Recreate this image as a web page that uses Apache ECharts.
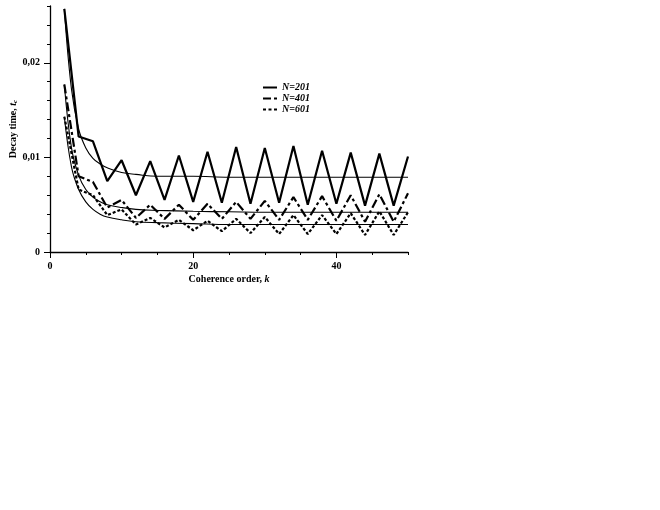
<!DOCTYPE html>
<html>
<head>
<meta charset="utf-8">
<script src="https://cdn.jsdelivr.net/npm/echarts@6/dist/echarts.min.js"></script>
<style>
  html, body { margin: 0; padding: 0; background: #fff; }
  #chart { width: 660px; height: 510px; }
</style>
</head>
<body>
<div id="chart"></div>
<script>
const kEven = [2, 4, 6, 8, 10, 12, 14, 16, 18, 20, 22, 24, 26, 28, 30, 32, 34, 36, 38, 40, 42, 44, 46, 48, 50];
const n201 = [0.0257, 0.0122, 0.0117, 0.0075, 0.0097, 0.0060, 0.0096, 0.0055, 0.0102, 0.0053, 0.0106, 0.0052, 0.0111,
  0.0051, 0.0110, 0.0052, 0.0112, 0.0050, 0.0107, 0.0051, 0.0105, 0.0049, 0.0104, 0.0049, 0.0101];
const n401 = [0.0177, 0.0080, 0.0074, 0.0047, 0.0055, 0.0036, 0.0050, 0.0035, 0.0050, 0.0034, 0.0051, 0.0035, 0.0053,
  0.0035, 0.0054, 0.0034, 0.0058, 0.0034, 0.0059, 0.0033, 0.0060, 0.0032, 0.0061, 0.0032, 0.0062];
const n601 = [0.0143, 0.0066, 0.0060, 0.0039, 0.0045, 0.0029, 0.0036, 0.0026, 0.0034, 0.0023, 0.0033, 0.0022, 0.0035,
  0.0020, 0.0037, 0.0019, 0.0039, 0.0019, 0.0039, 0.0019, 0.0041, 0.0018, 0.0043, 0.0018, 0.0042];

// thin fitted curves
const kFit = [2, 3, 4, 5, 6, 7, 8, 10, 12, 15, 20, 25, 30, 40, 50];
const fit201 = [0.0257, 0.0172, 0.0130, 0.0110, 0.0099, 0.0093, 0.0089, 0.0084, 0.0082, 0.0080, 0.0080, 0.0079, 0.0079, 0.0079, 0.0079];
const fit401 = [0.0177, 0.0110, 0.0081, 0.0066, 0.0058, 0.0053, 0.0050, 0.0047, 0.0045, 0.0044, 0.0043, 0.00425, 0.0042, 0.0042, 0.0042];
const fit601 = [0.0143, 0.0090, 0.0066, 0.0053, 0.0045, 0.0040, 0.0037, 0.0034, 0.0032, 0.0031, 0.0030, 0.0029, 0.0029, 0.0029, 0.0029];

const xMajor = [0, 20, 40];
const yMajor = [0, 0.01, 0.02];

const font = "'Liberation Serif', 'Times New Roman', serif";
const pairs = (xs, ys) => xs.map((x, i) => [x, ys[i]]);

// legend keys drawn as dash patterns
const iconSolid = "path://M0,0H14V2H0Z";
const iconDashDot = "path://M0,0H8V2H0Z M11,0H14V2H11Z";
const iconDash = "path://M0,0H3V2H0Z M5.5,0H8.5V2H5.5Z M11,0H14V2H11Z";

const chart = echarts.init(document.getElementById("chart"));

const dataLine = (name, xs, ys, type) => ({
  name: name,
  type: "line",
  data: pairs(xs, ys),
  symbol: "none",
  lineStyle: { color: "#000", width: 2.2, type: type },
  itemStyle: { color: "#000" },
  z: 3,
});
const fitLine = (name, ys) => ({
  name: name,
  type: "line",
  data: pairs(kFit, ys),
  symbol: "none",
  smooth: 0.4,
  lineStyle: { color: "#000", width: 1.1 },
  z: 2,
});

chart.setOption({
  backgroundColor: "#fff",
  animation: false,
  grid: { left: 50, right: 252, top: 6, bottom: 258, outerBoundsMode: "none" },
  legend: {
    data: [
      { name: "N=201", icon: iconSolid },
      { name: "N=401", icon: iconDashDot },
      { name: "N=601", icon: iconDash },
    ],
    orient: "vertical",
    left: 258,
    top: 77,
    itemWidth: 14,
    itemHeight: 2.5,
    itemGap: 0,
    itemStyle: { color: "#000" },
    textStyle: {
      fontFamily: font, fontSize: 10, fontWeight: "bold", fontStyle: "italic", color: "#000",
      lineHeight: 11,
    },
  },
  xAxis: [
    {
      type: "value",
      min: 0,
      max: 50,
      interval: 5,
      name: "{b|Coherence order, }{i|k}",
      nameLocation: "middle",
      nameGap: 22,
      nameMoveOverlap: false,
      nameTextStyle: {
        rich: {
          b: { fontFamily: font, fontSize: 10, fontWeight: "bold", color: "#000" },
          i: { fontFamily: font, fontSize: 10, fontWeight: "bold", fontStyle: "italic", color: "#000" },
        },
      },
      axisLine: { lineStyle: { color: "#000", width: 1.3 } },
      axisTick: { length: 3, lineStyle: { color: "#000", width: 1 } },
      axisLabel: {
        customValues: xMajor,
        fontFamily: font, fontSize: 10, fontWeight: "bold", color: "#000", margin: 9,
      },
      splitLine: { show: false },
    },
    {
      type: "value",
      min: 0,
      max: 50,
      position: "bottom",
      axisLine: { show: false },
      axisTick: { customValues: xMajor, length: 6, lineStyle: { color: "#000", width: 1 } },
      axisLabel: { show: false },
      splitLine: { show: false },
    },
  ],
  yAxis: [
    {
      type: "value",
      min: 0,
      max: 0.026,
      interval: 0.002,
      name: "{b|Decay time, }{i|t}{s|c}",
      nameLocation: "middle",
      nameGap: 31,
      nameMoveOverlap: false,
      nameTextStyle: {
        rich: {
          b: { fontFamily: font, fontSize: 10, fontWeight: "bold", color: "#000" },
          i: { fontFamily: font, fontSize: 10, fontWeight: "bold", fontStyle: "italic", color: "#000" },
          s: { fontFamily: font, fontSize: 7, fontWeight: "bold", fontStyle: "italic", color: "#000", padding: [4, 0, 0, 0] },
        },
      },
      axisLine: { show: true, lineStyle: { color: "#000", width: 1.3 } },
      axisTick: { show: true, length: 3, lineStyle: { color: "#000", width: 1 } },
      axisLabel: {
        customValues: yMajor,
        fontFamily: font, fontSize: 10, fontWeight: "bold", color: "#000", margin: 10,
        formatter: (v) => (v === 0 ? "0" : String(+v.toFixed(3)).replace(".", ",")),
      },
      splitLine: { show: false },
    },
    {
      type: "value",
      min: 0,
      max: 0.026,
      position: "left",
      axisLine: { show: false },
      axisTick: { show: true, customValues: yMajor, length: 6, lineStyle: { color: "#000", width: 1 } },
      axisLabel: { show: false },
      splitLine: { show: false },
    },
  ],
  series: [
    dataLine("N=201", kEven, n201, "solid"),
    dataLine("N=401", kEven, n401, [9, 3, 3, 3]),
    dataLine("N=601", kEven, n601, [3, 2]),
    fitLine("fit201", fit201),
    fitLine("fit401", fit401),
    fitLine("fit601", fit601),
  ],
});
</script>
</body>
</html>
